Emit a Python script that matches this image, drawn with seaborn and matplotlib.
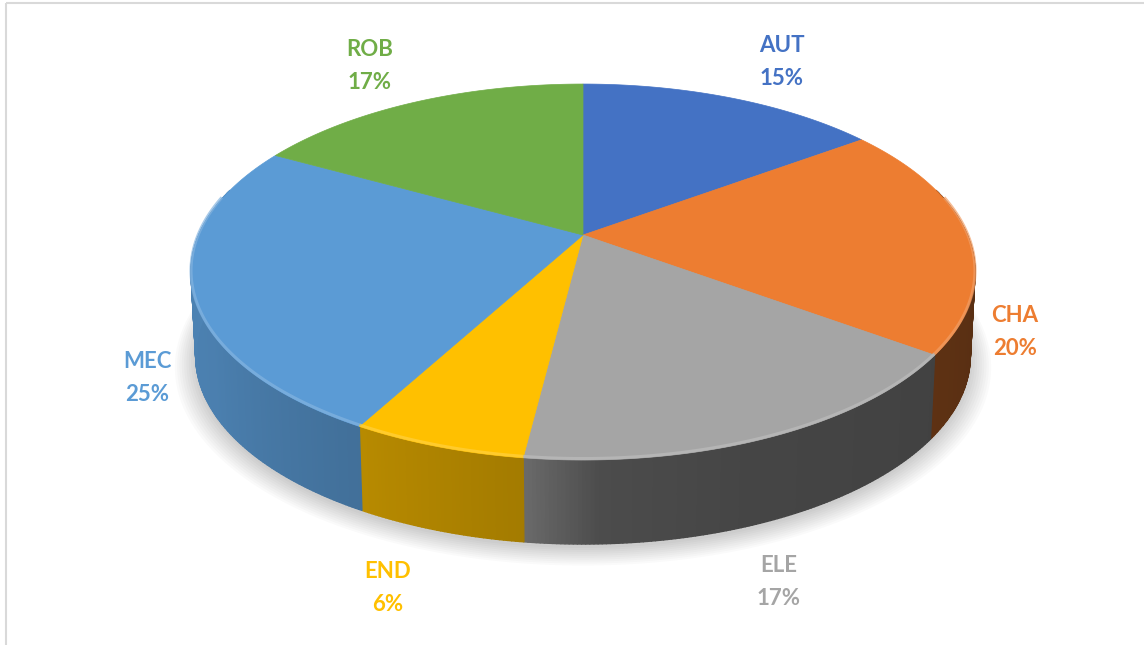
import numpy as np
import matplotlib
matplotlib.use("Agg")
import matplotlib.pyplot as plt
from matplotlib.patches import Polygon, Rectangle
from matplotlib.collections import PolyCollection
import seaborn as sns

# ---- data ----
categories = ["AUT", "CHA", "ELE", "END", "MEC", "ROB"]
values = [15, 20, 17, 6, 25, 17]
slice_colors = ["#4472C4", "#ED7D31", "#A5A5A5", "#FFC000", "#5B9BD5", "#70AD47"]

sns.set_theme(style="white")
plt.rcParams["font.family"] = ["Lato", "DejaVu Sans"]
palette = sns.color_palette(slice_colors)

W, H = 1144, 645
fig = plt.figure(figsize=(W / 100, H / 100), dpi=100)
ax = fig.add_axes([0, 0, 1, 1])
ax.set_xlim(0, W)
ax.set_ylim(H, 0)
ax.axis("off")

# ---- projection of the tilted disc (perspective) ----
CX, Y0 = 583.0, 235.0
A, B, K = 384.3, 180.7, 0.197
DEPTH = 84.0


def proj(t_deg, bottom=False):
    t = np.radians(np.asarray(t_deg, dtype=float))
    u, v = np.cos(t), np.sin(t)
    den = 1 + K * v
    a = A * (0.988 if bottom else 1.0)
    d = DEPTH if bottom else 0.0
    return CX + a * u / den, Y0 + d - B * v / den


vals = np.array(values, dtype=float)
fracs = vals / vals.sum()
cum = np.concatenate([[0], np.cumsum(fracs)])
starts = 90 - 360 * cum[:-1]
ends = 90 - 360 * cum[1:]

# ---- soft shadow under the disc ----
tt = np.linspace(0, 360, 361)
bx, by = proj(tt, bottom=True)
for i in range(10):
    s = 1 + 0.006 * i
    sx = CX + (bx - CX) * s
    sy = (Y0 + DEPTH) + (by - (Y0 + DEPTH)) * s + 4 + 0.6 * i
    ax.add_patch(Polygon(np.column_stack([sx, sy]), closed=True,
                         facecolor="black", edgecolor="none", alpha=0.018, zorder=0))

_shade_t = [-200, -150, -119, -97, -88, -70, -40, -11, 20]
_shade_f = [0.86, 0.82, 0.72, 0.64, 0.46, 0.42, 0.40, 0.37, 0.37]


def shade(t):
    return np.interp(t, _shade_t, _shade_f)


# ---- side walls ----
for st, en, col in zip(starts, ends, palette):
    lo, hi = max(en, -195), min(st, 15)
    if hi <= lo:
        continue
    n = max(2, int((hi - lo) / 0.5))
    ts = np.linspace(hi, lo, n + 1)
    polys, cols = [], []
    for t1, t2 in zip(ts[:-1], ts[1:]):
        x1, y1 = proj(t1)
        x2, y2 = proj(t2)
        x3, y3 = proj(t2, True)
        x4, y4 = proj(t1, True)
        polys.append([(x1, y1), (x2, y2), (x3, y3), (x4, y4)])
        f = shade(0.5 * (t1 + t2))
        cols.append(tuple(np.clip(np.array(col) * f, 0, 1)))
    pc = PolyCollection(polys, facecolors=cols, edgecolors=cols, linewidths=1.0, zorder=1)
    ax.add_collection(pc)

# ---- top faces ----
for st, en, col in zip(starts, ends, palette):
    ts = np.linspace(st, en, 200)
    x, y = proj(ts)
    pts = np.vstack([[CX, Y0], np.column_stack([x, y])])
    ax.add_patch(Polygon(pts, closed=True, facecolor=col, edgecolor=col,
                         linewidth=0.5, zorder=2))
    # bevel highlight on the front rim
    lo, hi = max(en, -192), min(st, 12)
    if hi > lo:
        tr = np.linspace(hi, lo, 100)
        rx, ry = proj(tr)
        light = tuple(np.clip(np.array(col) * 0.75 + 0.25, 0, 1))
        ax.plot(rx, ry - 1.5, color=light, lw=2.2, alpha=0.7, zorder=3,
                solid_capstyle="butt")

# ---- labels ----
label_pos = {
    "AUT": (782, 62),
    "CHA": (1015, 332),
    "ELE": (779, 582),
    "END": (388, 588),
    "MEC": (147, 378),
    "ROB": (370, 66),
}
for name, v, col in zip(categories, fracs, palette):
    x, y = label_pos[name]
    ax.text(x, y, f"{name}\n{round(v * 100)}%", color=col, fontsize=16,
            fontweight="bold", ha="center", va="center", linespacing=1.75,
            zorder=5)

# ---- chart frame ----
ax.add_patch(Rectangle((6, 3), 3000, 3000, fill=False, edgecolor="#D9D9D9",
                       linewidth=1.5, zorder=6))

fig.savefig("out.png", dpi=100)
